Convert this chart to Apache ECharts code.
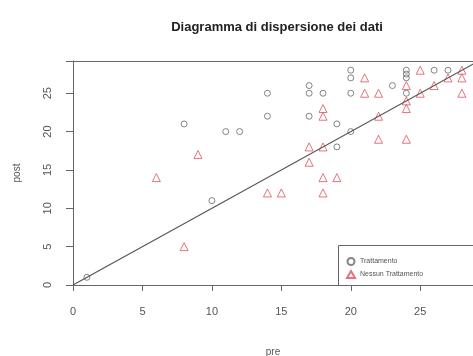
<!DOCTYPE html>
<html>
<head>
<meta charset="utf-8">
<script src="https://cdn.jsdelivr.net/npm/echarts@6/dist/echarts.min.js"></script>
<style>
html,body{margin:0;padding:0;background:#fff;}
#container{width:473px;height:356px;}
</style>
</head>
<body>
<div id="container"></div>
<script>
// pre / post pairs
var trattamento = [
	[1,1],[8,21],[10,11],[11,20],[12,20],[14,25],[14,22],[17,26],[17,25],[17,22],
	[18,25],[19,21],[19,18],[20,20],[20,28],[20,27],[20,25],[23,26],[24,28],[24,27.5],
	[24,27],[24,25],[26,28],[27,28]
];
var nessunTrattamento = [
	[6,14],[8,5],[9,17],[14,12],[15,12],[17,18],[17,16],[18,23],[18,22],[18,18],
	[18,14],[19,14],[18,12],[21,27],[21,25],[22,25],[22,22],[22,19],[24,26],[24,24],
	[24,23],[24,19],[25,28],[25,25],[26,26],[27,27],[28,28],[28,27],[28,25]
];
var bisettrice = [[0,0],[30,30]];
var nomi = ['Trattamento','Nessun Trattamento'];

var myChart = echarts.init(document.getElementById('container'));
var font = 'Liberation Sans, Arial, sans-serif';
var bordo = {show:true, lineStyle:{color:'#666', width:1}};
option = {
	animation:false,
	title:{
		text:'Diagramma di dispersione dei dati',
		left:272, top:16, textAlign:'center',
		textStyle:{fontFamily:font, fontSize:13, fontWeight:'bold', color:'#222'}
	},
	grid:{
		left:73, right:0, top:61, bottom:71,
		outerBoundsMode:'none'
	},
	// legend frame runs past the right edge like in the original
	graphic:[{
		type:'rect', z:90,
		shape:{x:338.5, y:245.5, width:300, height:40},
		style:{fill:'#fff', stroke:'#666', lineWidth:1}
	}],
	legend:{
		orient:'vertical',
		left:346, top:257,
		padding:0,
		itemGap:4,
		itemWidth:8, itemHeight:7,
		z:100,
		data:nomi,
		textStyle:{fontFamily:font, fontSize:7, color:'#555'}
	},
	xAxis:[{
		type:'value', min:0, max:28.8, interval:5,
		name:'pre', nameLocation:'middle', nameGap:62,
		nameTextStyle:{fontFamily:font, fontSize:10, color:'#555'},
		axisLine:bordo,
		axisTick:{show:true, length:6, lineStyle:{color:'#666'}},
		axisLabel:{margin:21, fontFamily:font, fontSize:11, color:'#555',
			formatter:function(v){return v>25?'':v;}},
		splitLine:{show:false}
	},{
		type:'value', position:'top', min:0, max:28.8,
		axisLine:bordo,
		axisTick:{show:false}, axisLabel:{show:false}, splitLine:{show:false}
	}],
	yAxis:{
		type:'value', min:0, max:29.2, interval:5,
		name:'post', nameLocation:'middle', nameGap:51, nameRotate:90,
		nameTextStyle:{fontFamily:font, fontSize:10, color:'#555'},
		axisLine:bordo,
		axisTick:{show:true, length:7, lineStyle:{color:'#666'}},
		axisLabel:{margin:20, rotate:90, fontFamily:font, fontSize:11, color:'#555',
			formatter:function(v){return v>25?'':v;}},
		splitLine:{show:false}
	},
	series:[
		{
			name:'bisettrice', type:'line', data:bisettrice,
			symbol:'none', silent:true,
			lineStyle:{color:'#555', width:1.2}
		},
		{
			name:nomi[0], type:'scatter', data:trattamento,
			symbol:'circle', symbolSize:6,
			itemStyle:{color:'rgba(0,0,0,0)', borderColor:'#666', borderWidth:1}
		},
		{
			name:nomi[1], type:'scatter', data:nessunTrattamento,
			symbol:'triangle', symbolSize:8,
			itemStyle:{color:'rgba(0,0,0,0)', borderColor:'#e0505e', borderWidth:1}
		}
	]
};
myChart.setOption(option);
</script>
</body>
</html>
